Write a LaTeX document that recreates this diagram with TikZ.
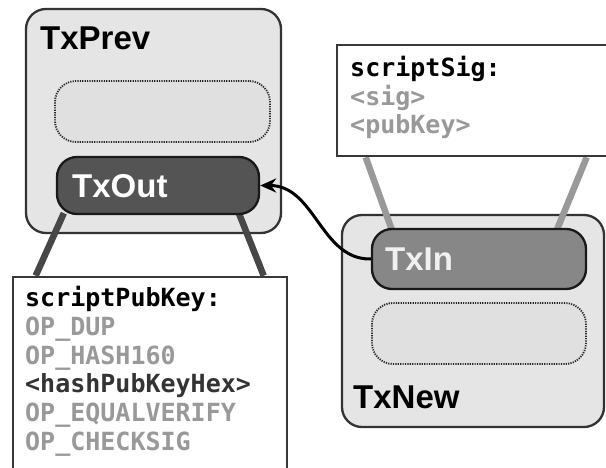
\documentclass[tikz,border=0pt]{standalone}
\usepackage{fontspec}
\setmainfont{Liberation Sans}
\newfontfamily\codefont{DejaVu Sans Mono}
\usetikzlibrary{calc,arrows.meta}
\pgfdeclarelayer{back}
\pgfdeclarelayer{mid}
\pgfsetlayers{back,mid,main}

\tikzset{
  outerbox/.style={draw=black!80, line width=2.3pt, fill=black!10, rounded corners=20pt, inner sep=0pt},
  slotbox/.style={draw=black!85, line width=1.8pt, dash pattern=on 1.2pt off 1.2pt, fill=black!12, rounded corners=21pt, inner sep=0pt},
  outslot/.style={draw=black!90, line width=2.3pt, fill=black!67, rounded corners=20pt, inner sep=0pt},
  inslot/.style={draw=black!90, line width=2.3pt, fill=black!47, rounded corners=20pt, inner sep=0pt},
  scriptbox/.style={draw=black!78, line width=2.6pt, fill=white, inner sep=0pt},
  title/.style={font=\bfseries\fontsize{33}{33}\selectfont, anchor=base west, inner sep=0pt},
  code/.style={font=\codefont\bfseries\fontsize{25}{28}\selectfont, anchor=base west, inner sep=0pt, text=black!40},
  publine/.style={draw=black!72, line width=6.5pt},
  sigline/.style={draw=black!40, line width=6.5pt},
  link/.style={draw=black, line width=3pt, -{Stealth[length=16pt,width=14pt]}}
}

\begin{document}
\begin{tikzpicture}[x=1pt,y=-1pt]
  \path[use as bounding box] (0,0) rectangle (606,468);
  \clip (0,0) rectangle (606,468);

  % transaction frames
  \begin{pgfonlayer}{back}
    \node[outerbox, minimum width=255, minimum height=224] (TxPrev) at (153.5,121) {};
    \node[outerbox, minimum width=262, minimum height=212] (TxNew) at (473,321) {};
  \end{pgfonlayer}

  % input and output slots
  \node[slotbox, minimum width=215, minimum height=61] (prevslot) at (162.5,111.5) {};
  \node[outslot, minimum width=202, minimum height=57] (TxOut) at (158,185.5) {};
  \node[inslot, minimum width=214, minimum height=60] (TxIn) at (479,259) {};
  \node[slotbox, minimum width=214, minimum height=61] (newslot) at (479,333.5) {};

  % script panels
  \node[scriptbox, minimum width=274, minimum height=223] (pubkey) at (150,388.5) {};
  \node[scriptbox, minimum width=303, minimum height=111] (sig) at (488.5,100.5) {};

  % panel supports
  \begin{pgfonlayer}{mid}
    \draw[publine] ($(TxOut.south west)+(8,-2)$) -- ($(pubkey.north west)+(24,0)$);
    \draw[publine] ($(TxOut.south west)+(183,-2)$) -- ($(pubkey.north west)+(252,0)$);
    \draw[sigline] ($(sig.south west)+(30,0)$) -- ($(TxIn.north west)+(21,2)$);
    \draw[sigline] ($(sig.south west)+(251,0)$) -- ($(TxIn.north west)+(186,2)$);
  \end{pgfonlayer}

  % spending reference
  \draw[link] (TxIn.west) .. controls +(-50,1) and +(55,0) .. (TxOut.east);

  % labels
  \node[title] (prevlabel) at (40,50) {TxPrev};
  \node[title, text=white] (outlabel) at (72,198) {TxOut};
  \node[title, text=black!6] (inlabel) at (385,271) {TxIn};
  \node[title] (newlabel) at (353,408) {TxNew};

  % scriptPubKey listing
  \node[code, text=black] (pk0) at (25,307) {scriptPubKey:};
  \node[code] (pk1) at (25,335.6) {OP\_DUP};
  \node[code] (pk2) at (25,364.2) {OP\_HASH160};
  \node[code, text=black!80] (pk3) at (25,392.8) {<hashPubKeyHex>};
  \node[code] (pk4) at (25,421.4) {OP\_EQUALVERIFY};
  \node[code] (pk5) at (25,450) {OP\_CHECKSIG};

  % scriptSig listing
  \node[code, text=black] (sg0) at (350,77) {scriptSig:};
  \node[code] (sg1) at (350,105.5) {<sig>};
  \node[code] (sg2) at (350,134) {<pubKey>};
\end{tikzpicture}
\end{document}
